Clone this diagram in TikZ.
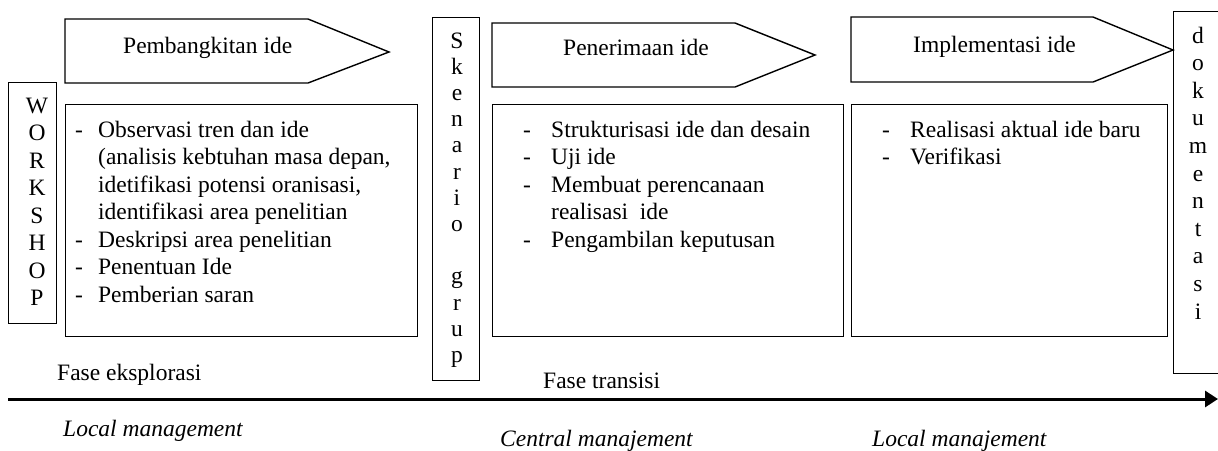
\documentclass[tikz,border=0pt]{standalone}
\usepackage{fontspec}
\setmainfont{Liberation Serif}
\usetikzlibrary{arrows.meta}

\begin{document}
\begin{tikzpicture}[x=1pt,y=-1pt,
  frame/.style={draw, line width=1.4pt, line join=miter},
  panel/.style={frame, inner sep=0pt, anchor=north west},
  txt/.style={font=\fontsize{23.5}{27.5}\selectfont, inner sep=0pt},
  label/.style={txt, anchor=base west},
  mgmt/.style={label, font=\fontsize{23.5}{27.5}\selectfont\itshape},
  column/.style={inner sep=0pt, anchor=base},
  axis/.style={line width=3pt, -{Triangle[length=13pt,width=16pt]}}]
\useasboundingbox (0,0) rectangle (1218,450);

% phase arrows
\draw[frame] (65,19) -- (308,19) -- (389,52) -- (308,83) -- (65,83) -- cycle;
\draw[frame] (492,23) -- (735,23) -- (815,55) -- (735,87) -- (492,87) -- cycle;
\draw[frame] (851,17) -- (1093,17) -- (1173,50) -- (1093,82) -- (851,82) -- cycle;
\node[label] (gen) at (123,53) {Pembangkitan ide};
\node[label] (acc) at (563,55) {Penerimaan ide};
\node[label] (imp) at (913,52) {Implementasi ide};

% activity panels
\node[panel, minimum width=352pt, minimum height=232pt] (p1) at (65,104) {};
\node[panel, minimum width=351pt, minimum height=232pt] (p2) at (492,104) {};
\node[panel, minimum width=316pt, minimum height=232pt] (p3) at (851,104) {};

\node[label] (l1) at (75,137) {\begin{tabular}[t]{@{}p{23pt}@{}l@{}}
- & Observasi tren dan ide\\
  & (analisis kebtuhan masa depan,\\
  & idetifikasi potensi oranisasi,\\
  & identifikasi area penelitian\\
- & Deskripsi area penelitian\\
- & Penentuan Ide\\
- & Pemberian saran
\end{tabular}};
\node[label] (l2) at (523,137) {\begin{tabular}[t]{@{}p{28pt}@{}l@{}}
- & Strukturisasi ide dan desain\\
- & Uji ide\\
- & Membuat perencanaan\\
  & realisasi~ ide\\
- & Pengambilan keputusan
\end{tabular}};
\node[label] (l3) at (882,137) {\begin{tabular}[t]{@{}p{28pt}@{}l@{}}
- & Realisasi aktual ide baru\\
- & Verifikasi
\end{tabular}};

% vertical side boxes
\node[panel, minimum width=48pt, minimum height=241pt] (ws) at (8,82) {};
\node[panel, minimum width=47pt, minimum height=363pt] (sk) at (432,17) {};
\node[panel, minimum width=60pt, minimum height=362pt] (dk) at (1173,11) {};

\node[column, font=\fontsize{23.5}{27.5}\selectfont] (wst) at (37,113)
  {\begin{tabular}[t]{@{}c@{}}W\\O\\R\\K\\S\\H\\O\\P\end{tabular}};
\node[column, font=\fontsize{23.5}{26.2}\selectfont] (skt) at (457,48)
  {\begin{tabular}[t]{@{}c@{}}S\\k\\e\\n\\a\\r\\i\\o\\ \\g\\r\\u\\p\end{tabular}};
\node[column, font=\fontsize{23.5}{27.6}\selectfont] (dkt) at (1198,43)
  {\begin{tabular}[t]{@{}c@{}}d\\o\\k\\u\\m\\e\\n\\t\\a\\s\\i\end{tabular}};

% phases and timeline
\node[label] (fe) at (57,380) {Fase eksplorasi};
\node[label] (ft) at (543,388) {Fase transisi};
\coordinate (t0) at (8,399);
\coordinate (t1) at (1218,399);
\draw[axis] (t0) -- (t1);

\node[mgmt] (m1) at (63,436) {Local management};
\node[mgmt] (m2) at (500,446) {Central manajement};
\node[mgmt] (m3) at (872,446) {Local manajement};
\end{tikzpicture}
\end{document}
